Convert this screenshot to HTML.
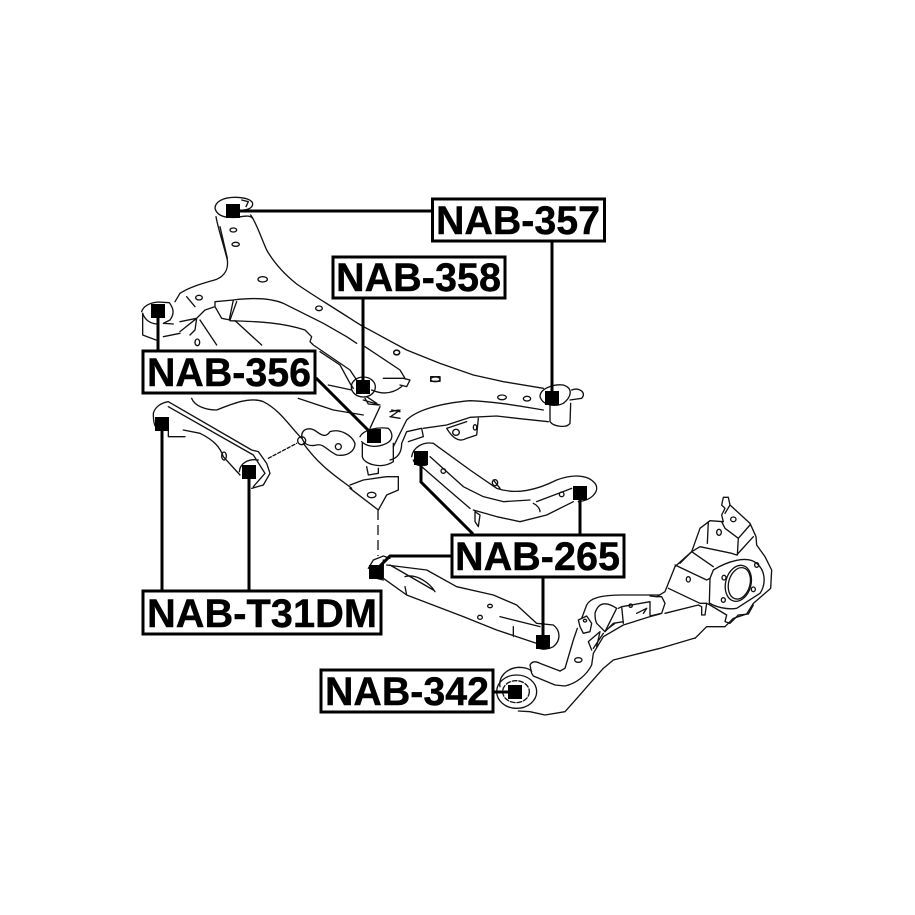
<!DOCTYPE html>
<html><head><meta charset="utf-8"><style>
html,body{margin:0;padding:0;background:#fff;width:915px;height:915px;overflow:hidden}
svg{display:block}
.a path,.a ellipse{fill:none;stroke:#111;stroke-width:4;stroke-linejoin:round;stroke-linecap:round}
.l{stroke:#000;stroke-width:3;fill:none}
.b{fill:#fff;stroke:#000;stroke-width:3}
text{font-family:"Liberation Sans",sans-serif;font-weight:bold;font-size:40px;fill:#000;stroke:#000;stroke-width:.4}
</style></head><body>
<svg width="915" height="915" viewBox="0 0 915 915" xmlns="http://www.w3.org/2000/svg">
<rect width="915" height="915" fill="#fff"/>
<g class="a" transform="translate(120,180) scale(.33333)">
<path d="M285 85C285 65 310 52 345 52C375 52 398 60 398 72C398 85 380 90 370 90M285 85C290 105 310 115 350 112C375 108 390 105 398 115M365 60L385 65L378 80"/>
<path d="M392 105C410 130 420 165 440 210C460 245 490 280 530 312C570 340 620 370 690 415C710 428 725 438 740 445"/>
<path d="M288 110C295 150 310 190 322 240C325 265 318 285 290 298C250 310 210 320 180 340L165 365M300 140L322 235M200 350L225 380"/>
<path d="M65 395C70 378 90 368 115 366L148 368C160 385 165 400 150 420L130 430L160 432M68 400L68 465L108 480M68 400C75 420 90 430 110 432M130 470L180 460"/>
<ellipse cx="340" cy="150" rx="10" ry="6"/><ellipse cx="347" cy="193" rx="11" ry="6"/><ellipse cx="428" cy="298" rx="14" ry="8"/><ellipse cx="237" cy="353" rx="10" ry="7"/><ellipse cx="597" cy="385" rx="10" ry="7"/><ellipse cx="830" cy="517" rx="9" ry="7"/><ellipse cx="232" cy="487" rx="7" ry="10"/>
<path d="M932 590H960V604H932Z"/>
<path d="M740 650L770 670M730 660L780 675M780 680L750 745M815 690L840 695M810 710L840 715M735 655L745 672L775 675M535 655L640 690L730 705"/>
<path d="M100 700C105 680 125 668 145 665L395 810L415 815L440 850L450 880L430 915L395 925M145 680L400 825L435 880L400 920M100 700C100 730 105 745 115 745M145 735L145 770L195 770M190 750L240 760C280 780 300 800 310 830L360 885M358 875C360 850 385 835 415 840"/>
<ellipse cx="312" cy="828" rx="7" ry="12"/>
<path d="M215 655C225 680 260 690 290 690C340 670 390 650 430 665C480 690 510 740 545 775M550 790C600 860 650 890 695 925"/>
<path d="M445 835L530 790" stroke-dasharray="10 6"/>
<path d="M545 770C545 745 570 740 590 755C610 770 620 770 630 755C660 745 695 765 705 790C705 815 680 830 650 825C620 810 610 790 590 795C570 800 550 795 545 770Z"/>
<ellipse cx="655" cy="800" rx="9" ry="9"/><ellipse cx="545" cy="782" rx="12" ry="12"/>
<path d="M690 915L730 900L800 890L835 890L835 930L800 945L775 990L690 925"/>
<ellipse cx="755" cy="945" rx="13" ry="8"/>
<path d="M720 770C730 750 770 740 805 745C820 760 820 780 800 790C770 805 740 800 725 785M727 790L727 830C730 850 780 870 820 845L820 790M740 860L745 885L775 880L775 865"/>
</g>
<g class="a" transform="translate(180,290) scale(.33333)">
<path d="M0 95L50 85L75 60L105 50L105 35L160 30C200 25 260 20 310 40L430 100L500 140M500 140L530 160M105 50L125 85L150 90L170 35M160 30L148 88"/>
<path d="M150 92C220 95 300 95 375 120L395 140L390 155L400 165L510 240L530 270M420 185L480 225L510 280L520 295M445 285L515 300M575 300C610 315 640 310 665 290M610 265L670 265L690 270L680 290L660 285M555 170L660 240L675 265"/>
<path d="M0 125L50 85L45 120L30 135M60 90L110 165M165 92L245 165"/>
<ellipse cx="550" cy="291" rx="36" ry="30"/>
</g>
<g class="a" transform="translate(330,180) scale(.33333)">
<path d="M190 800L230 720C260 690 330 670 420 662C500 665 580 680 640 690M180 840C200 835 215 820 215 790L230 755L275 745L280 770L235 785M280 745L350 735L420 712L500 708L560 715L655 725"/>
<path d="M630 650C630 625 670 612 700 615C730 625 725 650 700 670C680 680 640 680 630 650ZM660 675L660 725C670 740 710 745 720 730L722 670M725 630C750 620 770 640 755 655L720 660"/>
<path d="M110 445L230 510L330 550L430 585L520 605L640 625"/>
<path d="M350 745C365 770 385 790 410 775L440 765L445 715M350 745L410 725"/>
<ellipse cx="378" cy="757" rx="10" ry="9"/><ellipse cx="435" cy="742" rx="5" ry="8"/><ellipse cx="516" cy="652" rx="13" ry="7"/><ellipse cx="591" cy="656" rx="11" ry="7"/><ellipse cx="316" cy="598" rx="14" ry="7"/><ellipse cx="200" cy="518" rx="9" ry="7"/>
<path d="M245 830C250 800 280 785 310 790L420 870L500 925C560 945 620 930 680 900C720 885 770 880 795 910C810 930 790 960 745 965M250 840C255 855 265 860 290 855M275 860L350 925L420 985M300 830L400 920L460 950L520 965L600 960M490 900L510 925"/>
<ellipse cx="340" cy="873" rx="7" ry="7"/><ellipse cx="695" cy="943" rx="7" ry="7"/><ellipse cx="495" cy="908" rx="8" ry="9"/>
<path d="M182 710L210 690M180 695L205 690"/>
</g>
<g class="a" transform="translate(340,480) scale(.33333)">
<path d="M400 90L470 110L540 125L620 105L700 65M405 95L420 105L415 140L405 125ZM580 70C590 75 600 85 600 95M590 65L695 25"/>
<path d="M85 265L100 240L130 228L150 235M90 290L130 300M130 240L130 295M130 295L200 345L370 410L470 450L590 490M140 255L260 270L350 320L460 345L530 375L590 430L640 435C660 450 665 480 640 500C620 510 600 510 590 500M150 255L280 330M195 290C230 280 270 310 285 335M195 320L200 345M480 410L600 440M520 440L520 470"/>
<ellipse cx="450" cy="378" rx="7" ry="5"/><ellipse cx="420" cy="412" rx="7" ry="6"/>
</g>
<g class="a" transform="translate(490,590) scale(.33333)">
<ellipse cx="80" cy="305" rx="60" ry="50"/>
<ellipse cx="78" cy="305" rx="40" ry="33" stroke-dasharray="14 6"/>
<path d="M30 290C25 260 50 235 85 232C100 232 120 235 125 245"/>
<path d="M120 225C125 215 135 212 150 220L210 243M120 225L125 250L130 258L195 285L225 288C260 280 290 255 305 225L310 190L340 140L400 105L480 80L510 72"/>
<path d="M210 243L225 235L250 150L262 115"/>
<path d="M85 363L120 365L165 375L225 365L265 320L300 280L340 235L370 210L450 190L510 175L615 144"/>
<path d="M290 45C300 25 330 15 400 15L510 15M290 45L275 85"/>
<path d="M265 90L290 78L305 100L300 125L280 130L270 110Z"/>
<path d="M315 70C325 35 350 35 380 55L345 125L320 100C315 90 315 80 315 70Z"/>
<path d="M295 155L330 125L320 170M295 155L305 180M310 175L340 130"/>
<path d="M345 125L370 100L400 95M385 55L395 50L400 100M395 50L480 35L480 75M440 70L470 55L460 70M355 115L375 100"/>
<ellipse cx="422" cy="47" rx="5" ry="5"/><ellipse cx="285" cy="92" rx="5" ry="4"/><ellipse cx="265" cy="210" rx="11" ry="7"/>
</g>
<g class="a" transform="translate(650,490) scale(.33333)">
<path d="M0 318L20 320L45 305L75 230L125 185L150 115L180 92L220 95L215 75L225 55L215 45L220 22L235 22L240 45L300 100L318 140L320 165L345 200L365 240L362 295L310 340L290 372L250 385L225 410L170 410L135 445"/>
<path d="M0 378L35 370L45 340L35 320L20 320M45 370L145 345L155 350L155 375L165 375L170 340L180 345L230 375L225 395L240 400L265 375L295 372L310 345"/>
<path d="M55 295L150 340L170 340M90 220L125 185L190 230M75 225L170 270L180 265L178 340"/>
<path d="M125 185L150 170L245 190L260 195L310 140M175 95L172 160M215 95L225 115L265 145L262 195M225 70L240 45M265 145L300 105"/>
<path d="M190 240C230 215 290 195 320 220C345 240 350 280 330 310L260 355C230 360 195 350 180 340M180 265L190 240"/>
<ellipse cx="265" cy="280" rx="38" ry="55" transform="rotate(15 265 280)"/>
<ellipse cx="268" cy="280" rx="32" ry="48" transform="rotate(15 268 280)"/>
<ellipse cx="250" cy="88" rx="8" ry="7"/><ellipse cx="207" cy="127" rx="7" ry="9"/><ellipse cx="115" cy="268" rx="6" ry="8"/><ellipse cx="222" cy="263" rx="6" ry="7"/><ellipse cx="220" cy="330" rx="6" ry="7"/><ellipse cx="310" cy="298" rx="6" ry="7"/><ellipse cx="320" cy="225" rx="6" ry="7"/>
</g>
<path d="M378 510V556" fill="none" stroke="#111" stroke-width="1.3" stroke-dasharray="10 5"/>
<g class="l">
<path d="M233 211H431M552 241V398M363 298V387M158 311V350M316 378L374 436M162 424V590M249 472V590M421 458V482L473 534M580 493V534M375 571L390 556H451M543 577V642M493 692H515"/>
</g>
<g fill="#000">
<rect x="226" y="204" width="14" height="14"/><rect x="151" y="304" width="14" height="14"/><rect x="356" y="380" width="14" height="14"/><rect x="367" y="429" width="14" height="14"/><rect x="155" y="417" width="14" height="14"/><rect x="242" y="465" width="14" height="14"/><rect x="414" y="451" width="14" height="14"/><rect x="545" y="391" width="14" height="14"/><rect x="573" y="486" width="14" height="14"/><rect x="369" y="565" width="14" height="14"/><rect x="536" y="635" width="14" height="14"/><rect x="508" y="685" width="14" height="14"/>
</g>
<rect class="b" x="432.500" y="199" width="172" height="42"/>
<rect class="b" x="333" y="257" width="172" height="41"/>
<rect class="b" x="143" y="351" width="172" height="42"/>
<rect class="b" x="452" y="535" width="172" height="42"/>
<rect class="b" x="143" y="591" width="238" height="43"/>
<rect class="b" x="321" y="670" width="172" height="42"/>
<text x="436" y="234" textLength="164" lengthAdjust="spacingAndGlyphs">NAB-357</text>
<text x="336" y="291" textLength="165" lengthAdjust="spacingAndGlyphs">NAB-358</text>
<text x="147" y="386" textLength="164" lengthAdjust="spacingAndGlyphs">NAB-356</text>
<text x="455" y="570" textLength="165" lengthAdjust="spacingAndGlyphs">NAB-265</text>
<text x="147" y="627" textLength="230" lengthAdjust="spacingAndGlyphs">NAB-T31DM</text>
<text x="325" y="705" textLength="164" lengthAdjust="spacingAndGlyphs">NAB-342</text>
</svg>
</body></html>
